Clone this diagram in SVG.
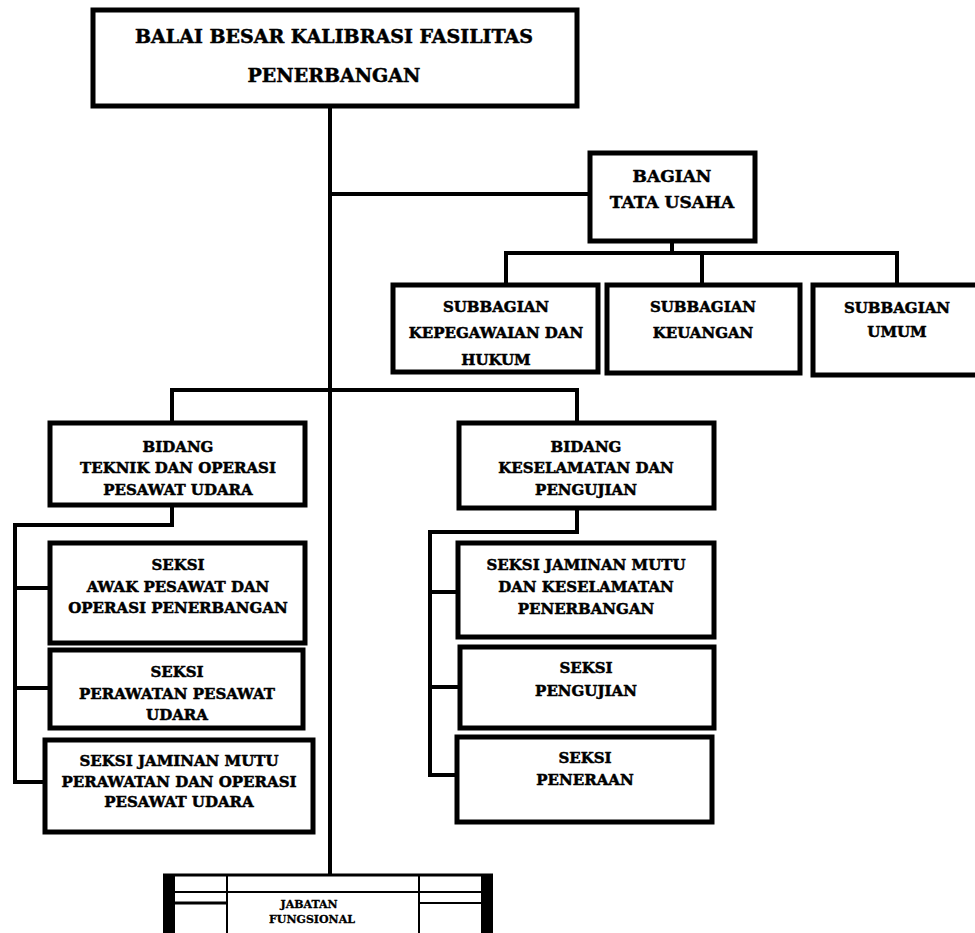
<svg xmlns="http://www.w3.org/2000/svg" width="975" height="933" viewBox="0 0 975 933">
<style>
.box{fill:#fff;stroke:#000;stroke-width:5}
.ln{fill:none;stroke:#000;stroke-width:4;stroke-linejoin:miter;stroke-linecap:square}
text{font-family:"DejaVu Serif","Liberation Serif",serif;font-weight:bold;fill:#000;stroke:#000;stroke-width:0.5;text-anchor:middle}
.t1{font-size:19px}
.t2{font-size:17px}
.t3{font-size:15px}
.t4{font-size:11px;stroke-width:0.3}
</style>
<rect width="975" height="933" fill="#fff"/>
<g id="connectors">
<path class="ln" d="M330 105 V874"/>
<path class="ln" d="M330 194 H590"/>
<path class="ln" d="M672 241 V253"/>
<path class="ln" d="M506 285 V253 H897 V285"/>
<path class="ln" d="M702 253 V285"/>
<path class="ln" d="M172 423 V390 H577 V423"/>
<path class="ln" d="M172 505 V525 H15 V782 H45"/>
<path class="ln" d="M15 588 H50"/>
<path class="ln" d="M15 688 H50"/>
<path class="ln" d="M577 508 V532 H430 V775 H457"/>
<path class="ln" d="M430 592 H458"/>
<path class="ln" d="M430 687 H460"/>
</g>
<g id="balai">
<rect class="box" x="93" y="10" width="484" height="96"/>
<text class="t1" x="334" y="43">BALAI BESAR KALIBRASI FASILITAS</text>
<text class="t1" x="334" y="82">PENERBANGAN</text>
</g>
<g id="bagian">
<rect class="box" x="590" y="153" width="165" height="88"/>
<text class="t2" x="672" y="182">BAGIAN</text>
<text class="t2" x="672" y="208">TATA USAHA</text>
</g>
<g id="subbagian-kepegawaian">
<rect class="box" x="393" y="285" width="205" height="87"/>
<text class="t3" x="496" y="312">SUBBAGIAN</text>
<text class="t3" x="496" y="338">KEPEGAWAIAN DAN</text>
<text class="t3" x="496" y="365">HUKUM</text>
</g>
<g id="subbagian-keuangan">
<rect class="box" x="607" y="285" width="193" height="88"/>
<text class="t3" x="703" y="312">SUBBAGIAN</text>
<text class="t3" x="703" y="338">KEUANGAN</text>
</g>
<g id="subbagian-umum">
<rect class="box" x="813" y="285" width="175" height="90"/>
<text class="t3" x="897" y="313">SUBBAGIAN</text>
<text class="t3" x="897" y="337">UMUM</text>
</g>
<g id="bidang-teknik">
<rect class="box" x="50" y="423" width="255" height="82"/>
<text class="t3" x="178" y="452">BIDANG</text>
<text class="t3" x="178" y="473">TEKNIK DAN OPERASI</text>
<text class="t3" x="178" y="495">PESAWAT UDARA</text>
</g>
<g id="bidang-keselamatan">
<rect class="box" x="459" y="423" width="255" height="85"/>
<text class="t3" x="586" y="452">BIDANG</text>
<text class="t3" x="586" y="473">KESELAMATAN DAN</text>
<text class="t3" x="586" y="495">PENGUJIAN</text>
</g>
<g id="seksi-awak">
<rect class="box" x="50" y="543" width="255" height="100"/>
<text class="t3" x="178" y="570">SEKSI</text>
<text class="t3" x="178" y="592">AWAK PESAWAT DAN</text>
<text class="t3" x="178" y="613">OPERASI PENERBANGAN</text>
</g>
<g id="seksi-perawatan">
<rect class="box" x="50" y="650" width="253" height="78"/>
<text class="t3" x="177" y="677">SEKSI</text>
<text class="t3" x="177" y="699">PERAWATAN PESAWAT</text>
<text class="t3" x="177" y="720">UDARA</text>
</g>
<g id="seksi-jaminan-perawatan">
<rect class="box" x="45" y="740" width="268" height="92"/>
<text class="t3" x="179" y="766">SEKSI JAMINAN MUTU</text>
<text class="t3" x="179" y="787">PERAWATAN DAN OPERASI</text>
<text class="t3" x="179" y="807">PESAWAT UDARA</text>
</g>
<g id="seksi-jaminan-keselamatan">
<rect class="box" x="458" y="543" width="256" height="94"/>
<text class="t3" x="586" y="570">SEKSI JAMINAN MUTU</text>
<text class="t3" x="586" y="592">DAN KESELAMATAN</text>
<text class="t3" x="586" y="614">PENERBANGAN</text>
</g>
<g id="seksi-pengujian">
<rect class="box" x="460" y="647" width="254" height="81"/>
<text class="t3" x="586" y="673">SEKSI</text>
<text class="t3" x="586" y="696">PENGUJIAN</text>
</g>
<g id="seksi-peneraan">
<rect class="box" x="457" y="737" width="255" height="85"/>
<text class="t3" x="585" y="763">SEKSI</text>
<text class="t3" x="585" y="785">PENERAAN</text>
</g>
<g id="jabatan-fungsional">
<path d="M163 875 H493" stroke="#000" stroke-width="3" fill="none"/>
<rect x="163" y="874" width="12" height="60" fill="#000"/>
<rect x="481" y="874" width="12" height="60" fill="#000"/>
<path d="M227 874 V933 M419 874 V933" stroke="#000" stroke-width="2" fill="none"/>
<path d="M175 892 H481" stroke="#000" stroke-width="2" fill="none"/>
<path d="M175 903 H227" stroke="#000" stroke-width="3" fill="none"/>
<path d="M419 903 H481" stroke="#000" stroke-width="2" fill="none"/>
<text class="t4" x="309" y="908">JABATAN</text>
<text class="t4" x="312" y="923">FUNGSIONAL</text>
</g>
</svg>
